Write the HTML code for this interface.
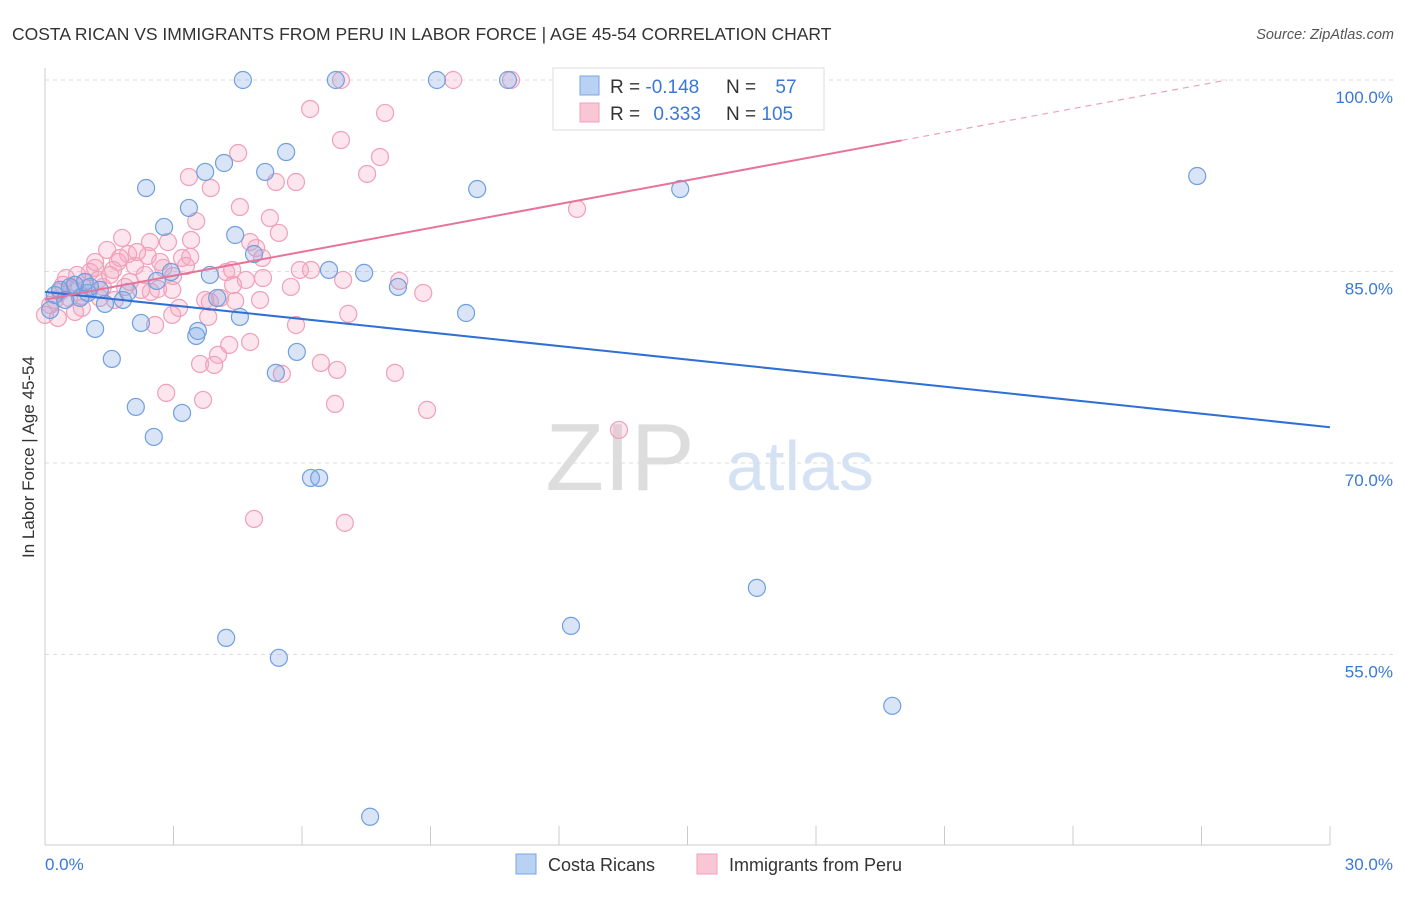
<!DOCTYPE html>
<html><head><meta charset="utf-8"><style>
body{margin:0;background:#fff;font-family:"Liberation Sans",sans-serif;}
svg text{font-family:"Liberation Sans",sans-serif;}
</style></head><body>
<svg width="1406" height="892" viewBox="0 0 1406 892">
<text x="12" y="40" font-size="17.5" fill="#333">COSTA RICAN VS IMMIGRANTS FROM PERU IN LABOR FORCE | AGE 45-54 CORRELATION CHART</text>
<text x="1394" y="39" font-size="14.5" fill="#555" text-anchor="end" font-style="italic">Source: ZipAtlas.com</text>
<text x="620" y="490" font-size="96" fill="#ddd" font-family="Liberation Serif" text-anchor="middle">ZIP</text>
<text x="800" y="490" font-size="70" fill="#d4e2f4" text-anchor="middle">atlas</text>
<g id="grid"></g>
<g id="axes"></g>
<g id="pts"></g>
<g id="lines"></g>
<text transform="translate(34,457) rotate(-90)" font-size="17" fill="#333" text-anchor="middle">In Labor Force | Age 45-54</text>
<text x="45" y="870" font-size="17" fill="#3a78d8">0.0%</text>
<text x="1393" y="870" font-size="17" fill="#3a78d8" text-anchor="end">30.0%</text>
<g>
<rect x="553" y="68" width="271" height="62" fill="#fff" stroke="#ddd"/>
<rect x="580" y="76" width="19" height="19" fill="#b9d1f3" stroke="#7aa6e3"/>
<rect x="580" y="103" width="19" height="19" fill="#f8c6d5" stroke="#f0a0b8"/>
<text x="610" y="93" font-size="19" fill="#333">R = <tspan fill="#3a78d8">-0.148</tspan></text>
<text x="726" y="93" font-size="19" fill="#333">N = <tspan fill="#3a78d8" dx="14">57</tspan></text>
<text x="610" y="120" font-size="19" fill="#333">R = <tspan fill="#3a78d8" dx="8">0.333</tspan></text>
<text x="726" y="120" font-size="19" fill="#333">N = <tspan fill="#3a78d8">105</tspan></text>
</g>
<g>
<rect x="516" y="854" width="20" height="20" fill="#b9d1f3" stroke="#7aa6e3"/>
<text x="548" y="871" font-size="18" fill="#333">Costa Ricans</text>
<rect x="697" y="854" width="20" height="20" fill="#f8c6d5" stroke="#f0a0b8"/>
<text x="729" y="871" font-size="18" fill="#333">Immigrants from Peru</text>
</g>
</svg>
<script>
const yTicks=[100,85,70,55];
const yTickLabels=["100.0%","85.0%","70.0%","55.0%"];
const xTicks=[0,3,6,9,12,15,18,21,24,27,30];
const blueX=[4.62,6.79,9.15,10.81,2.36,3.74,4.18,5.14,5.63,3.36,2.78,4.44,4.88,2.94,3.85,6.63,7.45,8.24,10.09,14.83,26.90,9.83,4.55,4.02,3.53,3.57,2.24,1.82,1.40,1.17,1.56,1.94,2.61,5.88,5.39,2.12,3.20,2.54,6.21,6.40,4.23,5.46,12.28,16.62,19.78,7.59,0.23,0.35,0.58,0.82,1.00,1.28,0.12,0.47,0.70,0.93,1.05];
const blueY=[100,100,100,100,91.54,92.80,93.50,92.80,94.36,89.98,88.49,87.86,86.37,84.96,84.73,85.12,84.89,83.79,91.46,91.46,92.48,81.75,81.44,82.93,79.95,80.34,80.97,82.77,82.46,80.50,78.15,83.40,84.26,78.70,77.06,74.39,73.92,72.04,68.83,68.83,56.30,54.74,57.24,60.22,50.98,42.29,83.16,83.56,83.79,82.93,83.32,83.56,81.99,82.77,83.95,84.18,83.79];
const pinkX=[6.91,9.53,10.88,12.30,16.95,6.19,7.94,6.91,4.51,7.82,7.52,3.36,3.87,5.39,5.86,4.55,12.42,3.53,5.25,5.46,1.80,2.45,2.87,3.41,4.79,4.93,1.45,1.94,2.40,3.20,3.39,1.70,1.17,2.10,3.29,1.59,1.05,0.75,0.49,4.23,4.37,4.69,5.09,6.21,6.96,8.27,2.99,1.24,0.93,0.42,1.35,1.87,2.24,2.47,2.64,5.74,8.83,0.56,0.86,3.74,4.09,4.44,3.85,3.13,2.97,3.81,7.08,2.57,5.86,4.30,4.79,4.04,3.62,3.95,6.44,6.82,5.53,8.17,2.83,3.69,6.77,8.92,13.40,4.88,7.00,0.23,0.12,0.35,0.63,0,1.63,1.28,1.98,2.33,2.76,1.52,1.17,1.75,2.15,2.69,2.97,4.39,5.02,0.86,0.70,0.30,5.95,5.07];
const pinkY=[100,100,100,100,100,97.73,97.42,95.30,94.28,93.97,92.64,92.40,91.54,92.01,92.01,90.05,89.90,88.94,89.19,88.02,87.63,87.31,87.31,87.47,87.31,86.84,86.69,86.37,86.22,86.06,86.14,85.75,85.75,85.43,85.43,85.12,84.96,84.73,84.49,84.96,85.12,84.34,84.49,85.12,84.34,84.26,84.65,84.34,84.18,83.95,83.79,83.79,83.56,83.40,83.63,83.79,83.32,82.93,83.09,82.77,82.93,82.69,82.62,82.15,81.60,81.44,81.68,80.81,80.81,79.25,79.48,78.47,77.76,77.68,77.84,77.29,76.98,77.06,75.49,74.94,74.63,74.16,72.59,65.62,65.31,82.77,82.38,83.40,83.71,81.60,82.77,82.93,84.18,84.73,85.28,84.73,85.28,86.06,86.53,85.75,83.56,83.95,82.77,82.15,81.83,81.36,85.12,86.06];
const blueTrend=[83.4,72.8];
const pinkTrend=[82.8,101.5];
const pinkSolidEnd=20;

const X=v=>45+v*(1285/30);
const Y=v=>80+(100-v)*(191.5/15);
const NS="http://www.w3.org/2000/svg";
function mk(t,a,p){const e=document.createElementNS(NS,t);for(const k in a)e.setAttribute(k,a[k]);p.appendChild(e);return e;}
const grid=document.getElementById('grid'),axes=document.getElementById('axes'),pts=document.getElementById('pts'),lines=document.getElementById('lines');
yTicks.forEach((t,i)=>{
 const l=mk('line',{x1:45,x2:1393,y1:Y(t),y2:Y(t),stroke:'#ddd','stroke-dasharray':'4,4'},grid);
 
 
 const tx=mk('text',{x:1393,y:Y(t)+23,'font-size':17,fill:'#3a78d8','text-anchor':'end'},grid);
 tx.textContent=yTickLabels[i];
 
 
});
const ax=mk('line',{x1:45,x2:45,y1:68,y2:845,stroke:'#ccc'},axes);


const bx=mk('line',{x1:45,x2:1330,y1:845,y2:845,stroke:'#ccc'},axes);


xTicks.forEach(t=>{
 const l=mk('line',{x1:X(t),x2:X(t),y1:826,y2:845,stroke:'#ccc'},axes);
 
 
});
pinkX.forEach((v,i)=>{
 const c=mk('circle',{cx:X(v),cy:Y(pinkY[i]),r:8.5,fill:'rgba(245,170,195,0.3)',stroke:'#f0a0b8','stroke-width':1.2},pts);
 
 
});
blueX.forEach((v,i)=>{
 const c=mk('circle',{cx:X(v),cy:Y(blueY[i]),r:8.5,fill:'rgba(130,170,230,0.3)',stroke:'#6f9fe0','stroke-width':1.2},pts);
 
 
});
const bl=mk('line',{x1:X(0),y1:Y(blueTrend[0]),x2:X(30),y2:Y(blueTrend[1]),stroke:'#2f6fd6','stroke-width':2},lines);


const pAt=x=>pinkTrend[0]+(pinkTrend[1]-pinkTrend[0])*x/30;
const pl=mk('line',{x1:X(0),y1:Y(pinkTrend[0]),x2:X(pinkSolidEnd),y2:Y(pAt(pinkSolidEnd)),stroke:'#e8739a','stroke-width':2},lines);


const xEnd=(100-pinkTrend[0])/(pinkTrend[1]-pinkTrend[0])*30;
const pd=mk('line',{x1:X(pinkSolidEnd),y1:Y(pAt(pinkSolidEnd)),x2:X(xEnd),y2:Y(100),stroke:'#f0a0b8','stroke-width':1.2,'stroke-dasharray':'6,5'},lines);


</script>
</body></html>
